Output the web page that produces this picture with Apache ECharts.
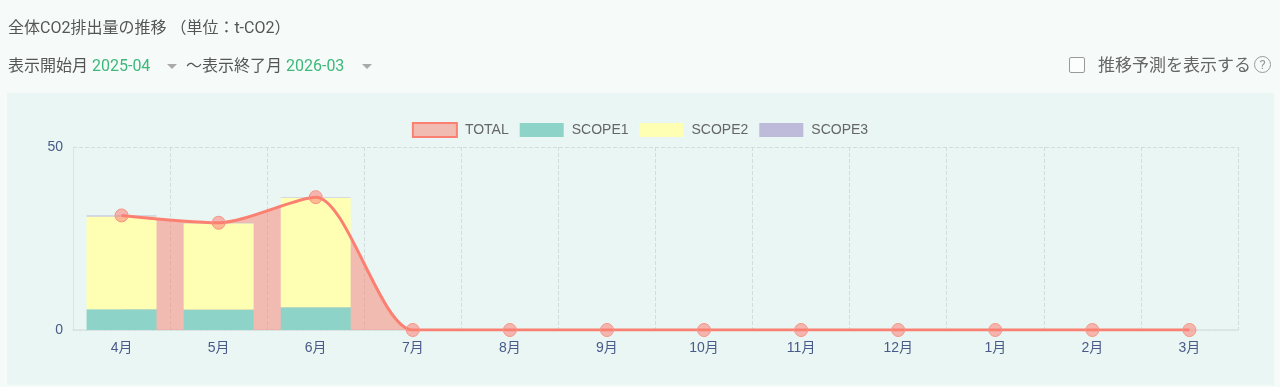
<!DOCTYPE html>
<html>
<head>
<meta charset="utf-8">
<script src="https://cdn.jsdelivr.net/npm/echarts@6/dist/echarts.min.js"></script>
<style>
  html, body { margin:0; padding:0; width:1280px; height:387px; overflow:hidden; background:#f6fbfa;
    font-family: Roboto, "Noto Sans CJK JP", sans-serif; }
  #panel { position:absolute; left:7px; top:93px; width:1267px; height:292px; background:#e9f6f3; }
  #chart { position:absolute; left:0; top:0; width:1280px; height:387px; }
  .t { position:absolute; white-space:nowrap; color:#555; font-size:16px; line-height:20px; }
  .g { color:#3db87a; }
  .arrow { position:absolute; width:0; height:0; border-left:5px solid transparent; border-right:5px solid transparent; border-top:5px solid #aaa; }
  #cb { position:absolute; left:1069px; top:57px; width:14px; height:14px; border:1.5px solid #999; border-radius:2px; background:#fcfefe; }
  #q { position:absolute; left:1254px; top:56px; width:15px; height:15px; border:1.5px solid #999; border-radius:50%; color:#999;
       font-size:13px; line-height:15px; text-align:center; font-family: Roboto, sans-serif; }
</style>
</head>
<body>
<div id="panel"></div>
<div id="chart"></div>
<div class="t" style="left:8px; top:18px;">全体CO2排出量の推移 （単位：t-CO2）</div>
<div class="t" style="left:8px; top:56px;">表示開始月 <span class="g">2025-04</span></div>
<div class="arrow" style="left:167px; top:64px;"></div>
<div class="t" style="left:186px; top:56px;">～表示終了月 <span class="g">2026-03</span></div>
<div class="arrow" style="left:362px; top:64px;"></div>
<div id="cb"></div>
<div class="t" style="left:1098px; top:55px; font-size:17px; color:#666;">推移予測を表示する</div>
<div id="q">?</div>
<script>
const categories = ['4月','5月','6月','7月','8月','9月','10月','11月','12月','1月','2月','3月'];
const totalValues = [31.3, 29.3, 36.3, 0, 0, 0, 0, 0, 0, 0, 0, 0];
const scope1Values = [5.7, 5.6, 6.2, 0, 0, 0, 0, 0, 0, 0, 0, 0];
const scope2Values = [25.3, 23.6, 29.9, 0, 0, 0, 0, 0, 0, 0, 0, 0];
const scope3Values = [0.3, 0.1, 0.2, 0, 0, 0, 0, 0, 0, 0, 0, 0];
const yTicks = { min: 0, max: 50, interval: 50 };

const RED = '#fb8072';
const SMOOTH = 0.26;
const chart = echarts.init(document.getElementById('chart'), null, { renderer: 'canvas' });
const labelFont = '"Liberation Sans", "Noto Sans CJK JP", sans-serif';
chart.setOption({
  backgroundColor: 'transparent',
  animation: false,
  textStyle: { fontFamily: labelFont },
  legend: {
    top: 117, left: 'center',
    itemWidth: 44, itemHeight: 14, itemGap: 11,
    textStyle: { fontSize: 14, color: '#666', fontFamily: labelFont, padding: [0, 0, 0, 3] },
    data: [
      { name: 'TOTAL', icon: 'rect', itemStyle: { color: 'rgba(251,128,114,0.5)', borderColor: RED, borderWidth: 2 } },
      { name: 'SCOPE1', icon: 'rect', itemStyle: { color: '#8dd3c7', borderWidth: 0 } },
      { name: 'SCOPE2', icon: 'rect', itemStyle: { color: '#ffffb3', borderWidth: 0 } },
      { name: 'SCOPE3', icon: 'rect', itemStyle: { color: '#bebada', borderWidth: 0 } }
    ]
  },
  grid: { left: 73, right: 42, top: 147, bottom: 57 },
  xAxis: {
    type: 'category', data: categories, boundaryGap: true,
    axisLine: { show: true, lineStyle: { color: '#d9e2e1', width: 1.5 } },
    axisTick: { show: false },
    axisLabel: { color: '#4a5a88', fontSize: 14, margin: 11, fontFamily: labelFont },
    splitLine: { show: true, lineStyle: { type: 'dashed', color: '#d3dcdc' } }
  },
  yAxis: {
    type: 'value', min: yTicks.min, max: yTicks.max, interval: yTicks.interval,
    axisLine: { show: true, lineStyle: { color: '#dae3e2' } },
    axisTick: { show: false },
    axisLabel: { color: '#4a5a88', fontSize: 14, margin: 10, fontFamily: labelFont },
    splitLine: { show: true, lineStyle: { type: 'dashed', color: '#d3dcdc' } }
  },
  series: [
    { name: 'TOTAL', type: 'line', data: totalValues, smooth: SMOOTH, z: 1,
      symbol: 'none', lineStyle: { width: 0 }, itemStyle: { color: RED },
      areaStyle: { color: RED, opacity: 0.5 } },
    { name: 'SCOPE1', type: 'bar', stack: 'scope', data: scope1Values, barWidth: '72%', z: 2,
      itemStyle: { color: '#8dd3c7' } },
    { name: 'SCOPE2', type: 'bar', stack: 'scope', data: scope2Values, barWidth: '72%', z: 2,
      itemStyle: { color: '#ffffb3' } },
    { name: 'SCOPE3', type: 'bar', stack: 'scope', data: scope3Values, barWidth: '72%', z: 2,
      itemStyle: { color: '#bebada' } },
    { name: 'TOTAL', type: 'line', data: totalValues, smooth: SMOOTH, z: 3,
      symbol: 'circle', symbolSize: 13,
      lineStyle: { color: RED, width: 3 },
      itemStyle: { color: 'rgba(251,128,114,0.55)', borderColor: '#f59485', borderWidth: 1 } }
  ]
});
</script>
</body>
</html>
